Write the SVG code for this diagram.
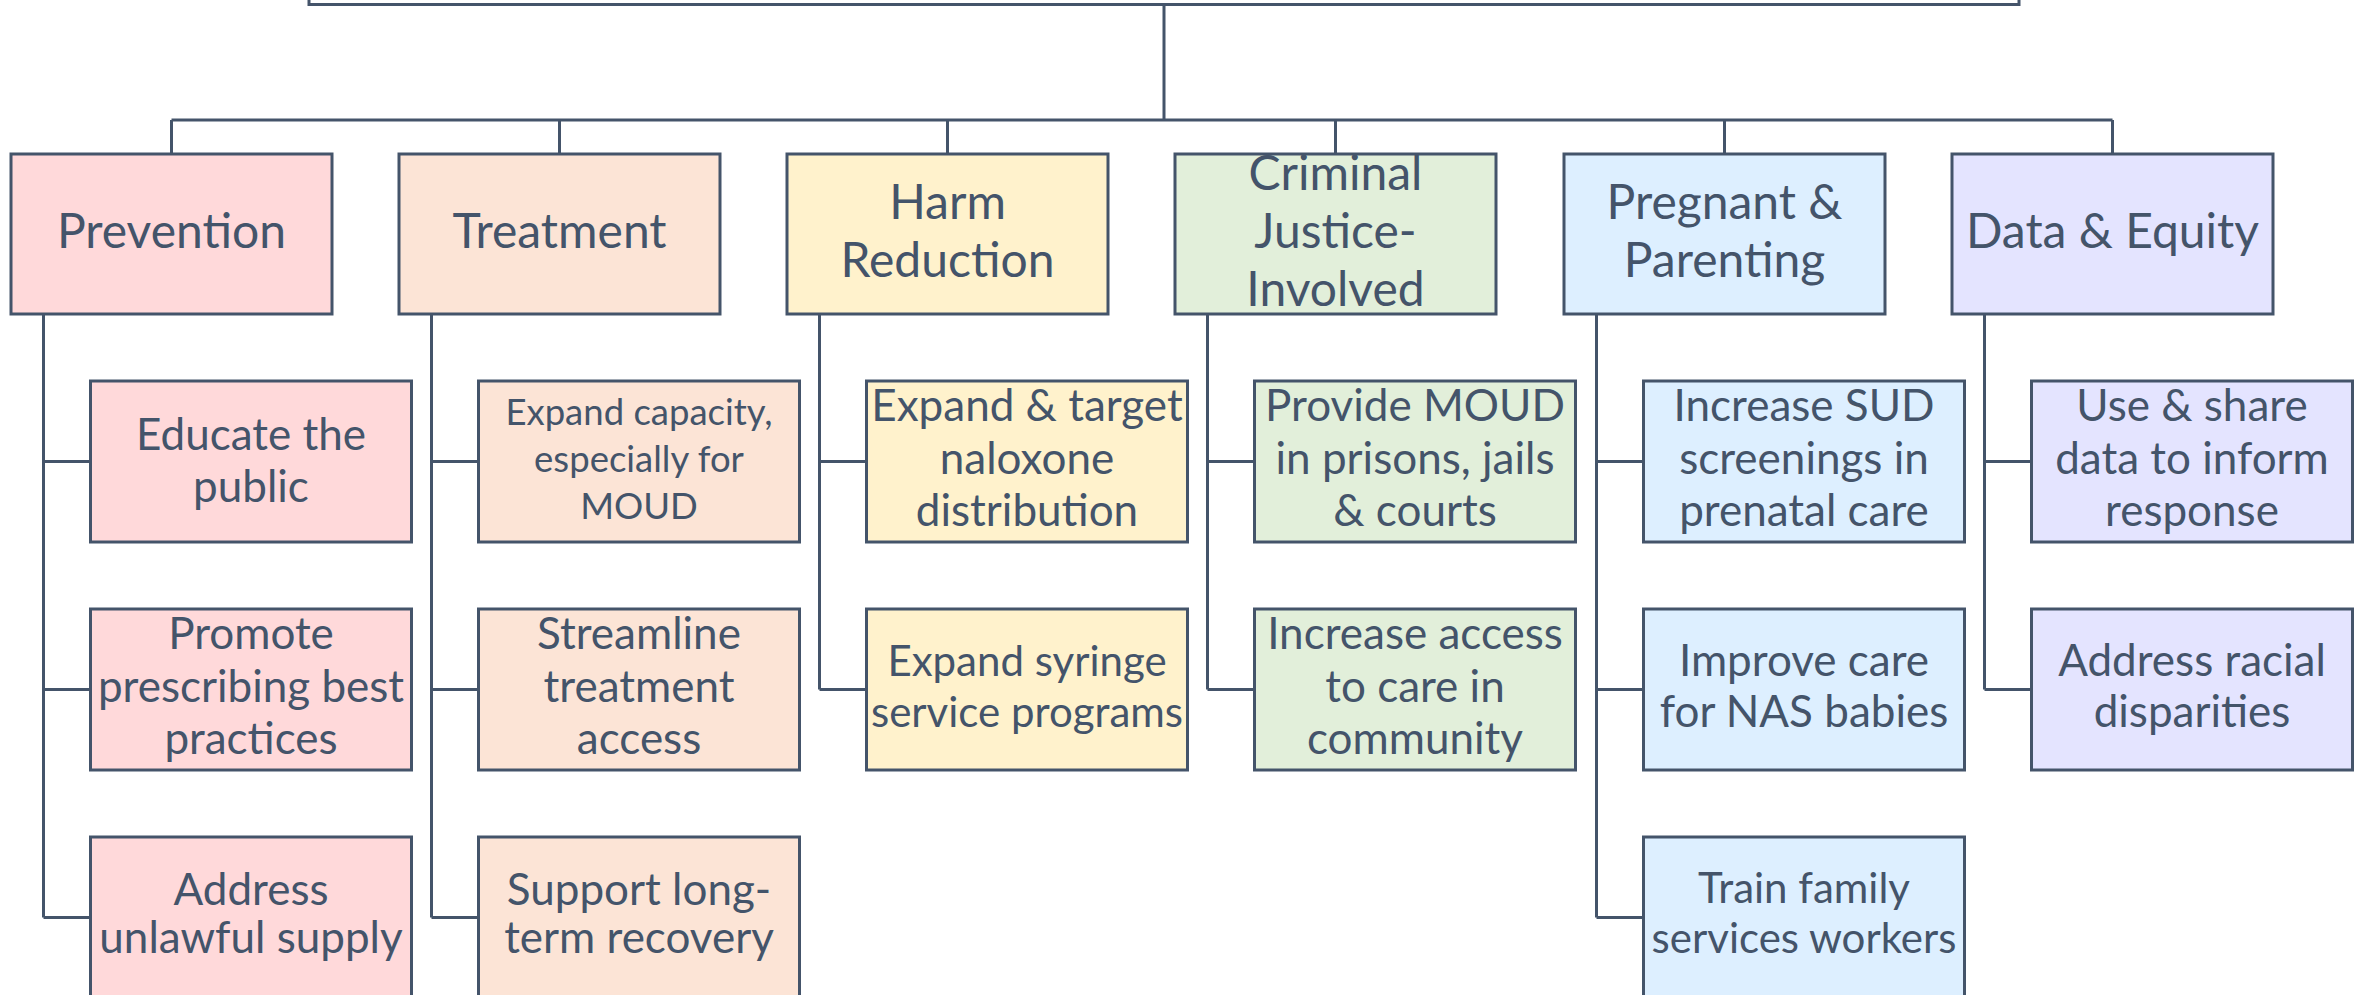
<svg xmlns="http://www.w3.org/2000/svg" width="2371" height="995" viewBox="0 0 2371 995">
<style>
  .box { stroke: #44546A; stroke-width: 3; }
  .c0 { fill: #FFD9DA; }
  .c1 { fill: #FCE4D6; }
  .c2 { fill: #FFF2CC; }
  .c3 { fill: #E2EFDA; }
  .c4 { fill: #DDEFFF; }
  .c5 { fill: #E4E4FF; }
  .conn { fill: none; stroke: #44546A; stroke-width: 3; }
  text { font-family: Lato, "Liberation Sans", sans-serif; fill: #44546A; text-anchor: middle; }
  .h { font-size: 48px; }
  .s { font-size: 44px; }
  .xs { font-size: 36.5px; }
  .sm { font-size: 42px; }
</style>
<rect width="2371" height="995" fill="#FFFFFF"/>

<g id="connectors">
  <path class="conn" d="M1164 4 V120 M171.5 120 H2112.5"/>
  <path class="conn" d="M171.5 120 V154 M559.5 120 V154 M947.5 120 V154 M1335.5 120 V154 M1724.5 120 V154 M2112.5 120 V154"/>
  <path class="conn" d="M43.5 314 V917.5 M43.5 461.5 H90.5 M43.5 689.5 H90.5 M43.5 917.5 H90.5"/>
  <path class="conn" d="M431.5 314 V917.5 M431.5 461.5 H478.5 M431.5 689.5 H478.5 M431.5 917.5 H478.5"/>
  <path class="conn" d="M819.5 314 V689.5 M819.5 461.5 H866.5 M819.5 689.5 H866.5"/>
  <path class="conn" d="M1207.5 314 V689.5 M1207.5 461.5 H1254.5 M1207.5 689.5 H1254.5"/>
  <path class="conn" d="M1596.5 314 V917.5 M1596.5 461.5 H1643.5 M1596.5 689.5 H1643.5 M1596.5 917.5 H1643.5"/>
  <path class="conn" d="M1984.5 314 V689.5 M1984.5 461.5 H2031.5 M1984.5 689.5 H2031.5"/>
</g>

<g id="top">
  <rect class="box" x="309" y="-60" width="1710" height="64.5" fill="#FFFFFF"/>
</g>

<!-- Category nodes -->
<g id="prevention">
  <rect class="box c0" x="11" y="154" width="321" height="160"/>
  <text class="h" x="171.5" y="248">Prevention</text>
</g>
<g id="treatment">
  <rect class="box c1" x="399" y="154" width="321" height="160"/>
  <text class="h" x="559.5" y="248">Treatment</text>
</g>
<g id="harm-reduction">
  <rect class="box c2" x="787" y="154" width="321" height="160"/>
  <text class="h" x="947.5" y="219">Harm</text>
  <text class="h" x="947.5" y="277">Reduction</text>
</g>
<g id="criminal-justice">
  <rect class="box c3" x="1175" y="154" width="321" height="160"/>
  <text class="h" x="1335.5" y="190">Criminal</text>
  <text class="h" x="1335.5" y="248">Justice-</text>
  <text class="h" x="1335.5" y="306">Involved</text>
</g>
<g id="pregnant-parenting">
  <rect class="box c4" x="1564" y="154" width="321" height="160"/>
  <text class="h" x="1724.5" y="219">Pregnant &amp;</text>
  <text class="h" x="1724.5" y="277">Parenting</text>
</g>
<g id="data-equity">
  <rect class="box c5" x="1952" y="154" width="321" height="160"/>
  <text class="h" x="2112.5" y="248">Data &amp; Equity</text>
</g>

<!-- Prevention children -->
<g id="educate-public">
  <rect class="box c0" x="90.5" y="381" width="321" height="161"/>
  <text class="s" x="251" y="449.5">Educate the</text>
  <text class="s" x="251" y="501.5">public</text>
</g>
<g id="promote-prescribing">
  <rect class="box c0" x="90.5" y="609" width="321" height="161"/>
  <text class="s" x="251" y="649">Promote</text>
  <text class="s" x="251" y="702">prescribing best</text>
  <text class="s" x="251" y="754">practices</text>
</g>
<g id="address-supply">
  <rect class="box c0" x="90.5" y="837" width="321" height="161"/>
  <text class="s" x="251" y="905">Address</text>
  <text class="s" x="251" y="953">unlawful supply</text>
</g>

<!-- Treatment children -->
<g id="expand-capacity">
  <rect class="box c1" x="478.5" y="381" width="321" height="161"/>
  <text class="xs" x="639" y="425">Expand capacity,</text>
  <text class="xs" x="639" y="472">especially for</text>
  <text class="xs" x="639" y="519">MOUD</text>
</g>
<g id="streamline-access">
  <rect class="box c1" x="478.5" y="609" width="321" height="161"/>
  <text class="s" x="639" y="649">Streamline</text>
  <text class="s" x="639" y="702">treatment</text>
  <text class="s" x="639" y="754">access</text>
</g>
<g id="long-term-recovery">
  <rect class="box c1" x="478.5" y="837" width="321" height="161"/>
  <text class="s" x="639" y="905">Support long-</text>
  <text class="s" x="639" y="953">term recovery</text>
</g>

<!-- Harm reduction children -->
<g id="naloxone">
  <rect class="box c2" x="866.5" y="381" width="321" height="161"/>
  <text class="s" x="1027" y="421">Expand &amp; target</text>
  <text class="s" x="1027" y="474">naloxone</text>
  <text class="s" x="1027" y="526">distribution</text>
</g>
<g id="syringe">
  <rect class="box c2" x="866.5" y="609" width="321" height="161"/>
  <text class="sm" x="1027" y="676">Expand syringe</text>
  <text class="sm" x="1027" y="727">service programs</text>
</g>

<!-- Criminal justice children -->
<g id="moud-prisons">
  <rect class="box c3" x="1254.5" y="381" width="321" height="161"/>
  <text class="s" x="1415" y="421">Provide MOUD</text>
  <text class="s" x="1415" y="474">in prisons, jails</text>
  <text class="s" x="1415" y="526">&amp; courts</text>
</g>
<g id="care-community">
  <rect class="box c3" x="1254.5" y="609" width="321" height="161"/>
  <text class="s" x="1415" y="649">Increase access</text>
  <text class="s" x="1415" y="702">to care in</text>
  <text class="s" x="1415" y="754">community</text>
</g>

<!-- Pregnant & parenting children -->
<g id="sud-screenings">
  <rect class="box c4" x="1643.5" y="381" width="321" height="161"/>
  <text class="s" x="1804" y="421">Increase SUD</text>
  <text class="s" x="1804" y="474">screenings in</text>
  <text class="s" x="1804" y="526">prenatal care</text>
</g>
<g id="nas-babies">
  <rect class="box c4" x="1643.5" y="609" width="321" height="161"/>
  <text class="s" x="1804" y="676">Improve care</text>
  <text class="s" x="1804" y="727">for NAS babies</text>
</g>
<g id="family-services">
  <rect class="box c4" x="1643.5" y="837" width="321" height="161"/>
  <text class="sm" x="1804" y="903">Train family</text>
  <text class="sm" x="1804" y="953">services workers</text>
</g>

<!-- Data & equity children -->
<g id="share-data">
  <rect class="box c5" x="2031.5" y="381" width="321" height="161"/>
  <text class="s" x="2192" y="421">Use &amp; share</text>
  <text class="s" x="2192" y="474">data to inform</text>
  <text class="s" x="2192" y="526">response</text>
</g>
<g id="racial-disparities">
  <rect class="box c5" x="2031.5" y="609" width="321" height="161"/>
  <text class="s" x="2192" y="676">Address racial</text>
  <text class="s" x="2192" y="727">disparities</text>
</g>
</svg>
